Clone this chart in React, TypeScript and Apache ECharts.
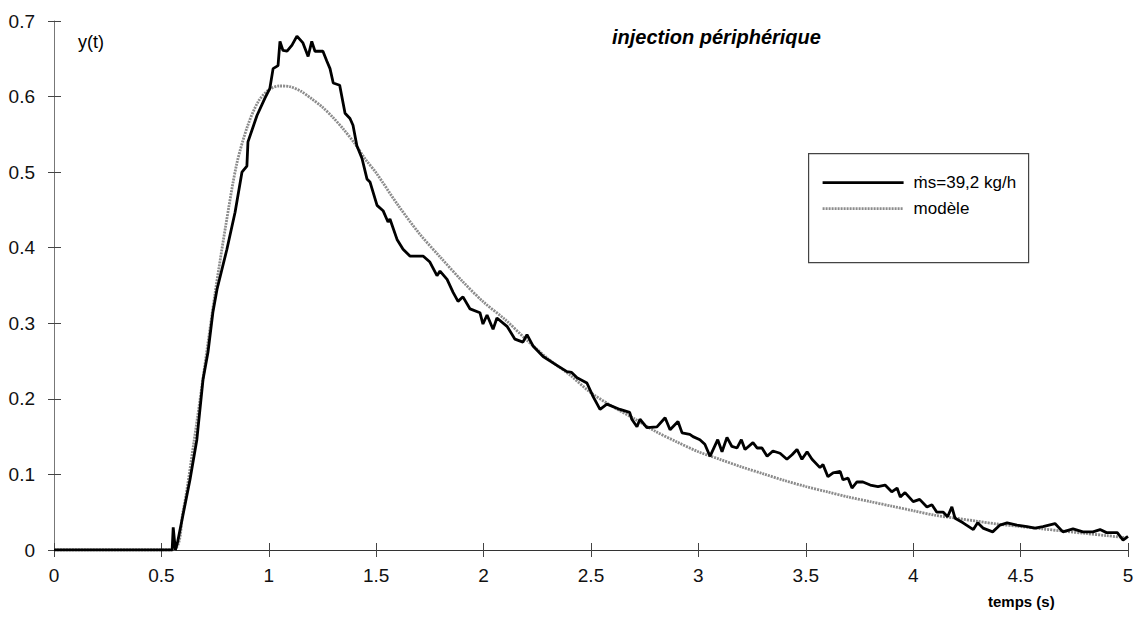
import React, { useEffect, useRef } from "react";
import * as echarts from "echarts";

// measured response y(t), ṁs = 39,2 kg/h
const measT = [
  0, 0.55, 0.555, 0.565, 0.575, 0.596, 0.633, 0.665, 0.694, 0.717, 0.74, 0.759, 0.805, 0.843, 0.875, 0.898,
  0.903, 0.945, 0.982, 1.005, 1.02, 1.043, 1.052, 1.066, 1.085, 1.108, 1.131, 1.159, 1.183, 1.2, 1.215, 1.252,
  1.27, 1.285, 1.3, 1.33, 1.355, 1.378, 1.392, 1.41, 1.434, 1.457, 1.471, 1.504, 1.532, 1.555, 1.564, 1.597,
  1.625, 1.657, 1.69, 1.718, 1.75, 1.783, 1.797, 1.83, 1.858, 1.881, 1.904, 1.937, 1.983, 1.997, 2.016, 2.044,
  2.062, 2.109, 2.146, 2.183, 2.202, 2.23, 2.277, 2.332, 2.388, 2.41, 2.435, 2.481, 2.51, 2.542, 2.574, 2.635,
  2.68, 2.69, 2.714, 2.728, 2.76, 2.807, 2.845, 2.868, 2.905, 2.924, 2.96, 2.975, 3.007, 3.03, 3.054, 3.09,
  3.11, 3.133, 3.156, 3.18, 3.2, 3.217, 3.254, 3.273, 3.296, 3.32, 3.347, 3.38, 3.412, 3.436, 3.459, 3.482,
  3.506, 3.529, 3.566, 3.58, 3.603, 3.627, 3.66, 3.673, 3.697, 3.715, 3.738, 3.766, 3.8, 3.836, 3.869, 3.9,
  3.925, 3.94, 3.962, 4.0, 4.03, 4.064, 4.087, 4.11, 4.14, 4.16, 4.18, 4.195, 4.232, 4.28, 4.3, 4.325,
  4.37, 4.404, 4.437, 4.483, 4.53, 4.567, 4.604, 4.66, 4.697, 4.744, 4.79, 4.837, 4.87, 4.9, 4.95, 4.977, 5.0,
];
const measY = [
  0, 0, 0.03, 0, 0.01, 0.04, 0.093, 0.146, 0.226, 0.262, 0.315, 0.345, 0.398, 0.447, 0.5, 0.508,
  0.54, 0.575, 0.598, 0.611, 0.637, 0.641, 0.673, 0.661, 0.66, 0.668, 0.68, 0.671, 0.653, 0.673, 0.66, 0.66,
  0.647, 0.637, 0.618, 0.615, 0.578, 0.571, 0.562, 0.535, 0.518, 0.491, 0.487, 0.456, 0.449, 0.434, 0.438, 0.411,
  0.398, 0.389, 0.389, 0.389, 0.381, 0.363, 0.369, 0.358, 0.341, 0.329, 0.335, 0.319, 0.314, 0.299, 0.311, 0.292,
  0.307, 0.296, 0.279, 0.275, 0.285, 0.27, 0.256, 0.246, 0.236, 0.235, 0.228, 0.221, 0.203, 0.186, 0.193, 0.186,
  0.182, 0.173, 0.163, 0.173, 0.162, 0.163, 0.175, 0.159, 0.17, 0.155, 0.153, 0.15, 0.146, 0.14, 0.124, 0.146,
  0.13, 0.149, 0.137, 0.135, 0.146, 0.133, 0.142, 0.135, 0.135, 0.124, 0.131, 0.128, 0.12, 0.126, 0.133, 0.12,
  0.13, 0.12, 0.109, 0.113, 0.097, 0.102, 0.104, 0.093, 0.095, 0.082, 0.09, 0.09, 0.086, 0.084, 0.086, 0.077,
  0.082, 0.07, 0.076, 0.064, 0.067, 0.057, 0.06, 0.05, 0.05, 0.044, 0.057, 0.042, 0.036, 0.027, 0.036, 0.029,
  0.024, 0.033, 0.036, 0.033, 0.031, 0.029, 0.031, 0.035, 0.024, 0.028, 0.024, 0.024, 0.027, 0.023, 0.023, 0.013, 0.018,
];

// model ("modèle")
const modelT = [
  0, 0.55, 0.6, 0.65, 0.7, 0.75, 0.8, 0.85, 0.9, 0.95, 1.0, 1.05, 1.1, 1.15, 1.2, 1.25, 1.3, 1.35, 1.4, 1.45,
  1.5, 1.6, 1.7, 1.8, 1.9, 2.0, 2.1, 2.2, 2.3, 2.4, 2.5, 2.6, 2.7, 2.8, 2.9, 3.0, 3.1, 3.2, 3.3, 3.4, 3.5,
  3.6, 3.7, 3.8, 3.9, 4.0, 4.1, 4.2, 4.3, 4.4, 4.5, 4.6, 4.7, 4.8, 4.9, 5.0,
];
const modelY = [
  0, 0, 0.05, 0.14, 0.24, 0.34, 0.43, 0.51, 0.56, 0.593, 0.609, 0.614, 0.613, 0.607, 0.597, 0.586, 0.572, 0.556, 0.538, 0.517,
  0.499, 0.457, 0.419, 0.387, 0.356, 0.328, 0.305, 0.278, 0.253, 0.232, 0.208, 0.19, 0.174, 0.157, 0.143, 0.13, 0.12, 0.11, 0.101, 0.092, 0.084,
  0.077, 0.07, 0.064, 0.058, 0.052, 0.046, 0.042, 0.038, 0.034, 0.031, 0.028, 0.025, 0.022, 0.019, 0.016,
];

const seriesNames = ["ṁs=39,2 kg/h", "modèle"];
const titleText = "injection périphérique";
const yName = "y(t)";
const xName = "temps (s)";

const FONT = "'Liberation Sans', Arial, sans-serif";

export default function App() {
  const ref = useRef<HTMLDivElement>(null);
  useEffect(() => {
    if (!ref.current) return;
    const chart = echarts.init(ref.current, null, { renderer: "svg" });
    const xBase = {
      type: "value" as const,
      min: 0,
      max: 5,
      interval: 0.5,
      splitLine: { show: false },
    };
    const yBase = {
      type: "value" as const,
      min: 0,
      max: 0.7,
      interval: 0.1,
      splitLine: { show: false },
    };
    chart.setOption({
      animation: false,
      backgroundColor: "#ffffff",
      textStyle: { fontFamily: FONT },
      grid: { left: 54, right: 11, top: 21, bottom: 69, containLabel: false },
      xAxis: [
        {
          ...xBase,
          axisLine: { show: true, onZero: false, lineStyle: { color: "#333", width: 1.2 } },
          axisTick: { show: true, inside: false, length: 7, lineStyle: { color: "#444" } },
          axisLabel: { color: "#111", fontSize: 19, fontFamily: FONT, margin: 16 },
        },
        {
          ...xBase,
          position: "bottom",
          axisLine: { show: false },
          axisTick: { show: true, inside: true, length: 7, lineStyle: { color: "#444" } },
          axisLabel: { show: false },
        },
      ],
      yAxis: [
        {
          ...yBase,
          axisLine: { show: true, lineStyle: { color: "#777", width: 1 } },
          axisTick: { show: true, inside: false, length: 6, lineStyle: { color: "#444" } },
          axisLabel: { color: "#111", fontSize: 19, fontFamily: FONT, margin: 19 },
        },
        {
          ...yBase,
          position: "left",
          axisLine: { show: false },
          axisTick: { show: true, inside: true, length: 7, lineStyle: { color: "#444" } },
          axisLabel: { show: false },
        },
      ],
      series: [
        {
          name: seriesNames[1],
          type: "line",
          xAxisIndex: 0,
          yAxisIndex: 0,
          data: modelT.map((t, i) => [t, modelY[i]]),
          showSymbol: false,
          symbol: "none",
          smooth: 0.3,
          lineStyle: { color: "#8c8c8c", width: 2.8, type: [2, 1] },
          z: 2,
        },
        {
          name: seriesNames[0],
          type: "line",
          xAxisIndex: 0,
          yAxisIndex: 0,
          data: measT.map((t, i) => [t, measY[i]]),
          showSymbol: false,
          symbol: "none",
          lineStyle: { color: "#000", width: 2.8 },
          z: 3,
        },
      ],
      graphic: [
        {
          type: "text",
          left: 612,
          top: 27,
          style: {
            text: titleText,
            font: `italic bold 20px ${FONT}`,
            fill: "#000",
          },
        },
        {
          type: "text",
          left: 78,
          top: 33,
          style: { text: yName, font: `18px ${FONT}`, fill: "#000" },
        },
        {
          type: "text",
          left: 988,
          top: 594,
          style: { text: xName, font: `bold 15px ${FONT}`, fill: "#000" },
        },
        {
          type: "group",
          left: 808,
          top: 153,
          children: [
            {
              type: "rect",
              shape: { x: 0, y: 0, width: 220, height: 109 },
              style: { fill: "#fff", stroke: "#444", lineWidth: 1.2 },
            },
            {
              type: "line",
              shape: { x1: 14, y1: 29, x2: 95, y2: 29 },
              style: { stroke: "#000", lineWidth: 2.8 },
            },
            {
              type: "text",
              x: 105,
              y: 29,
              style: { text: seriesNames[0], font: `17px ${FONT}`, fill: "#000", verticalAlign: "middle" },
            },
            {
              type: "line",
              shape: { x1: 14, y1: 55, x2: 95, y2: 55 },
              style: { stroke: "#8c8c8c", lineWidth: 2.8, lineDash: [2, 1] },
            },
            {
              type: "text",
              x: 105,
              y: 55,
              style: { text: seriesNames[1], font: `17px ${FONT}`, fill: "#000", verticalAlign: "middle" },
            },
          ],
        },
      ],
    });
    return () => chart.dispose();
  }, []);
  return (
    <div
      ref={ref}
      style={{ position: "fixed", left: 0, top: 0, width: 1139, height: 619, background: "#fff" }}
    />
  );
}
